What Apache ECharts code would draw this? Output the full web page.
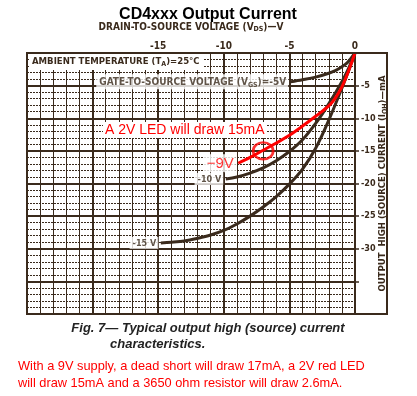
<!DOCTYPE html>
<html><head><meta charset="utf-8">
<script src="https://cdn.jsdelivr.net/npm/echarts@6/dist/echarts.min.js"></script>
<style>html,body{margin:0;padding:0;background:#fff}#c{width:417px;height:396px}</style>
</head><body><div id="c"></div>
<script>
// Data (V_DS in volts, I_OH in mA)
const xTickLabels = ['-15','-10','-5','0'];
const yTickLabels = ['-5','-10','-15','-20','-25','-30'];
const vgs5V  = [0, -0.3, -0.6, -1, -1.5, -2, -3, -4, -4.9];
const vgs5I  = [0, -0.8, -1.5, -2.1, -2.7, -3.1, -3.7, -4.1, -4.4];
const vgs10V = [0, -0.5, -1, -2, -3, -4, -5, -6, -7, -8, -9, -9.85];
const vgs10I = [0, -2.4, -4.4, -7.8, -10.8, -13.3, -15.1, -16.5, -17.6, -18.4, -19.0, -19.3];
const vgs15V = [0, -0.5, -1, -2, -3, -4, -5, -6, -7, -8, -9, -10, -11, -12, -13, -14, -14.8];
const vgs15I = [0, -2.8, -5.4, -10.3, -14.6, -17.8, -20.1, -22.0, -23.6, -25.0, -26.2, -27.2, -27.9, -28.4, -28.8, -29.0, -29.1];
const red9V  = [0, -0.5, -1, -1.5, -2, -3, -4, -5, -6, -7, -8, -8.9];
const red9I  = [0, -2.8, -5.2, -6.9, -8.1, -9.7, -11.2, -12.6, -13.8, -14.9, -16.0, -16.9];
const ledPoint = [-7, -15];
const curveLabels = ['GATE-TO-SOURCE VOLTAGE (V{s|GS})=-5V', '-10 V', '-15 V', '\u22129V'];

const zip = (a, b) => a.map((v, i) => [v, b[i]]);
const ink = '#3a2a1c';
const cond = '"DejaVu Sans Condensed","DejaVu Sans",sans-serif';
const subStyle = { fontSize: 7, fontWeight: 'bold', fontFamily: cond, color: ink, padding: [5, 0, 0, 0] };

const chart = echarts.init(document.getElementById('c'));
const curve = (name, V, I, color, w) => ({
  name, type: 'line', data: zip(V, I), smooth: 0.35, showSymbol: false, silent: true,
  lineStyle: { color, width: w }, z: 5
});
const endLabel = (V, I, text, color, size, z) => ({
  type: 'scatter', symbolSize: 1, silent: true, z: z || 6,
  itemStyle: { color: 'rgba(0,0,0,0)' },
  data: [{ value: [V[V.length - 1], I[I.length - 1]] }],
  label: {
    show: true, position: 'left', distance: 2, formatter: text,
    color, fontFamily: color === ink ? cond : 'Liberation Sans, Arial, sans-serif',
    fontWeight: color === ink ? 'bold' : 'normal', fontSize: size,
    backgroundColor: '#fff', padding: [2, 2, 1, 3],
    rich: { s: subStyle }
  }
});

chart.setOption({
  animation: false,
  backgroundColor: '#fff',
  grid: { left: 27, right: 62, top: 53, bottom: 82 },
  xAxis: {
    type: 'value', position: 'top', min: -25, max: 0, interval: 5,
    name: 'DRAIN-TO-SOURCE VOLTAGE (V{s|DS})\u2014V', nameLocation: 'middle', nameGap: 20,
    nameTextStyle: { color: ink, fontFamily: cond, fontWeight: 'bold', fontSize: 10, rich: { s: subStyle } },
    axisLine: { show: false }, axisTick: { show: false },
    axisLabel: { color: ink, fontFamily: cond, fontWeight: 'bold', fontSize: 10, margin: 2,
      formatter: v => xTickLabels.includes(String(v)) ? String(v) : '' },
    splitLine: { show: true, lineStyle: { color: ink, width: 2 } },
    minorTick: { show: false, splitNumber: 5 },
    minorSplitLine: { show: true, lineStyle: { color: ink, width: 1 } }
  },
  yAxis: {
    type: 'value', position: 'right', min: -40, max: 0, interval: 5,
    name: 'OUTPUT  HIGH (SOURCE) CURRENT (I{s|OH})\u2014mA', nameLocation: 'middle', nameGap: 22, nameRotate: 90,
    nameMoveOverlap: false,
    nameTextStyle: { color: ink, fontFamily: cond, fontWeight: 'bold', fontSize: 9.5, rich: { s: subStyle } },
    axisLine: { show: false },
    axisTick: { show: true, length: 4, lineStyle: { color: ink, width: 1.5 },
      interval: (i, v) => yTickLabels.includes(String(v)) },
    axisLabel: { color: ink, fontFamily: cond, fontWeight: 'bold', fontSize: 9, margin: 6,
      formatter: v => yTickLabels.includes(String(v)) ? String(v) : '' },
    splitLine: { show: true, lineStyle: { color: ink, width: 1.8 } },
    minorTick: { show: false, splitNumber: 5 },
    minorSplitLine: { show: true, lineStyle: { color: ink, width: 1, type: [2, 1] } }
  },
  series: [
    curve('-5V', vgs5V, vgs5I, ink, 3),
    curve('-10V', vgs10V, vgs10I, ink, 3),
    curve('-15V', vgs15V, vgs15I, ink, 3),
    curve('9V', red9V, red9I, '#ff0000', 3),
    endLabel(vgs5V, vgs5I, curveLabels[0], ink, 10),
    endLabel(vgs10V, vgs10I, curveLabels[1], ink, 9),
    endLabel(vgs15V, vgs15I, curveLabels[2], ink, 9),
    endLabel(red9V, red9I, curveLabels[3], '#ff0000', 15, 7),
    { type: 'scatter', silent: true, z: 8, symbol: 'circle', symbolSize: [20, 17],
      itemStyle: { color: 'rgba(0,0,0,0)', borderColor: '#ff0000', borderWidth: 2.5 },
      data: [ledPoint] }
  ],
  graphic: [
    { type: 'rect', shape: { x: 27, y: 53, width: 360, height: 261 }, z: 100,
      style: { fill: 'none', stroke: ink, lineWidth: 2 } },
    { type: 'text', x: 208, y: 15, z: 100, style: { text: 'CD4xxx Output Current', textAlign: 'center', textVerticalAlign: 'middle',
      font: 'bold 16px "Liberation Sans", Arial, sans-serif', fill: '#000' } },
    { type: 'text', x: 29, y: 54, z: 100, style: {
      rich: { s: { fontSize: 7, fontWeight: 'bold', fontFamily: cond, fill: ink, padding: [5, 0, 0, 0] },
              n: { fontSize: 9.5, fontWeight: 'bold', fontFamily: cond, fill: ink } },
      text: '{n|AMBIENT TEMPERATURE (T}{s|A}{n|)=25\u00b0C}', textVerticalAlign: 'top',
      backgroundColor: '#fff', padding: [2, 4, 2, 3] } },
    { type: 'text', x: 103, y: 130, z: 100, style: { text: 'A 2V LED will draw 15mA', textVerticalAlign: 'middle',
      font: '14px "Liberation Sans", Arial, sans-serif', fill: '#ff0000', backgroundColor: '#fff', padding: [1, 2, 1, 2] } },
    { type: 'text', x: 208, y: 328, z: 100, style: { text: 'Fig. 7\u2014 Typical output high (source) current', textAlign: 'center',
      textVerticalAlign: 'middle', font: 'italic bold 13px "Liberation Sans", Arial, sans-serif', fill: '#222' } },
    { type: 'text', x: 110, y: 344, z: 100, style: { text: 'characteristics.', textVerticalAlign: 'middle',
      font: 'italic bold 13px "Liberation Sans", Arial, sans-serif', fill: '#222' } },
    { type: 'text', x: 18, y: 366, z: 100, style: { text: 'With a 9V supply, a dead short will draw 17mA, a 2V red LED', textVerticalAlign: 'middle',
      font: '12.8px "Liberation Sans", Arial, sans-serif', fill: '#ff0000' } },
    { type: 'text', x: 18, y: 383, z: 100, style: { text: 'will draw 15mA and a 3650 ohm resistor will draw 2.6mA.', textVerticalAlign: 'middle',
      font: '12.8px "Liberation Sans", Arial, sans-serif', fill: '#ff0000' } }
  ]
});
</script></body></html>
